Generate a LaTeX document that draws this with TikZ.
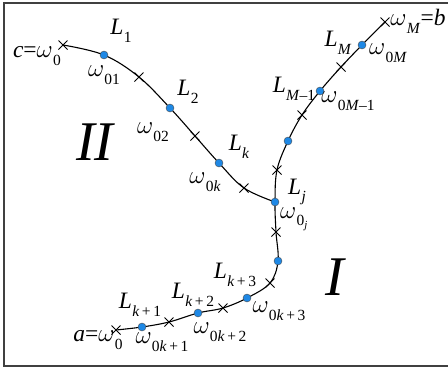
\RequirePackage{fix-cm}
\documentclass[tikz,border=0pt]{standalone}
\usepackage{fontspec}
\setmainfont{Liberation Serif}
\usetikzlibrary{shapes.misc}
\definecolor{dotblue}{HTML}{1E88E5}
\newcommand\subx[1]{\raisebox{-0.33em}{\fontsize{15.5}{16}\selectfont #1}}
\newcommand\LL[1]{\textit{L}\kern0.3pt\subx{#1}}
\newcommand\WW[1]{{\fontsize{25}{26}\selectfont$\omega$}\kern0.3pt\subx{#1}}
\begin{document}
\begin{tikzpicture}[x=1pt,y=-1pt,
  dotnode/.style={circle,fill=dotblue,draw=black!70,line width=0.4pt,inner sep=0pt,minimum size=8pt},
  crossnode/.style={cross out,draw=black,line width=1pt,inner sep=0pt,minimum size=8pt},
  lbl/.style={inner sep=0pt,font=\fontsize{23.5}{26}\selectfont},
  big/.style={inner sep=0pt,font=\fontsize{56}{60}\selectfont\itshape},
  curve/.style={line width=1.1pt,black}]
\useasboundingbox (0,0) rectangle (448,370);
\draw[line width=1.3pt,black!75] (4,3) rectangle (454,366);
% points of the left branch
\coordinate (p1) at (63,45);
\coordinate (p2) at (104,55);
\coordinate (p3) at (139,77);
\coordinate (p4) at (170,108);
\coordinate (p5) at (195,136);
\coordinate (p6) at (219,163);
\coordinate (p7) at (244,188);
\coordinate (pj) at (275,202);
% right branch
\coordinate (q1) at (385,22);
\coordinate (q2) at (362,45);
\coordinate (q3) at (341,67);
\coordinate (q4) at (320,91);
\coordinate (q5) at (302,115);
\coordinate (q6) at (288,141);
\coordinate (q7) at (277,170);
% lower branch
\coordinate (r1) at (276,232);
\coordinate (r2) at (278,261);
\coordinate (r3) at (270,283);
\coordinate (r4) at (247,298);
\coordinate (r5) at (223,308);
\coordinate (r6) at (198,313);
\coordinate (r7) at (169,322);
\coordinate (r8) at (142,327);
\coordinate (r9) at (116,330);
\draw[curve] plot[smooth,tension=0.6] coordinates {(p1) (p2) (p3) (p4) (p5) (p6) (p7) (pj)};
\draw[curve] plot[smooth,tension=0.6] coordinates {(q1) (q2) (q3) (q4) (q5) (q6) (q7) (pj) (r1) (r2) (r3) (r4) (r5) (r6) (r7) (r8) (r9)};
% crosses
\foreach \c in {p1,p3,p5,p7,q1,q3,q5,q7,r1,r3,r5,r7,r9}
  \node[crossnode] (x\c) at (\c) {};
% dots
\foreach \c in {p2,p4,p6,pj,q2,q4,q6,r2,r4,r6,r8}
  \node[dotnode] (d\c) at (\c) {};
% labels
\node[lbl] (lc) at (37,56) {\textit{c}=\WW{0}};
\node[lbl] (l1) at (121,31) {\LL{1}};
\node[lbl] (w01) at (104,75) {\WW{01}};
\node[lbl] (l2) at (188,92) {\LL{2}};
\node[lbl] (w02) at (153,132) {\WW{02}};
\node[big] (II) at (95,142) {II};
\node[lbl] (lk) at (239,147) {\LL{\textit{k}}};
\node[lbl] (w0k) at (205,182) {\WW{0\textit{k}}};
\node[lbl] (lj) at (297,192) {\LL{\textit{j}}};
\node[lbl] (w0j) at (294,219) {\WW{0\textsubscript{\textit{j}}}};
\node[lbl] (lM) at (338,43) {\LL{\textit{M}}};
\node[lbl] (w0M) at (388,53) {\WW{0\textit{M}}};
\node[lbl] (wMb) at (418,21) {\WW{\textit{M}}=\textit{b}};
\node[lbl] (lM1) at (294,89) {\LL{\textit{M}–1}};
\node[lbl] (w0M1) at (348,101) {\WW{0\textit{M}–1}};
\node[lbl] (lk3) at (235,275) {\LL{\textit{k}\,+\,3}};
\node[lbl] (w0k3) at (279,311) {\WW{0\textit{k}\,+\,3}};
\node[big] (I) at (335,277) {I};
\node[lbl] (lk2) at (193,295) {\LL{\textit{k}\,+\,2}};
\node[lbl] (w0k2) at (220,332) {\WW{0\textit{k}\,+\,2}};
\node[lbl] (lk1) at (140,305) {\LL{\textit{k}\,+\,1}};
\node[lbl] (w0k1) at (162,342) {\WW{0\textit{k}\,+\,1}};
\node[lbl] (la) at (98,340) {\textit{a}=\WW{0}};
\end{tikzpicture}
\end{document}
